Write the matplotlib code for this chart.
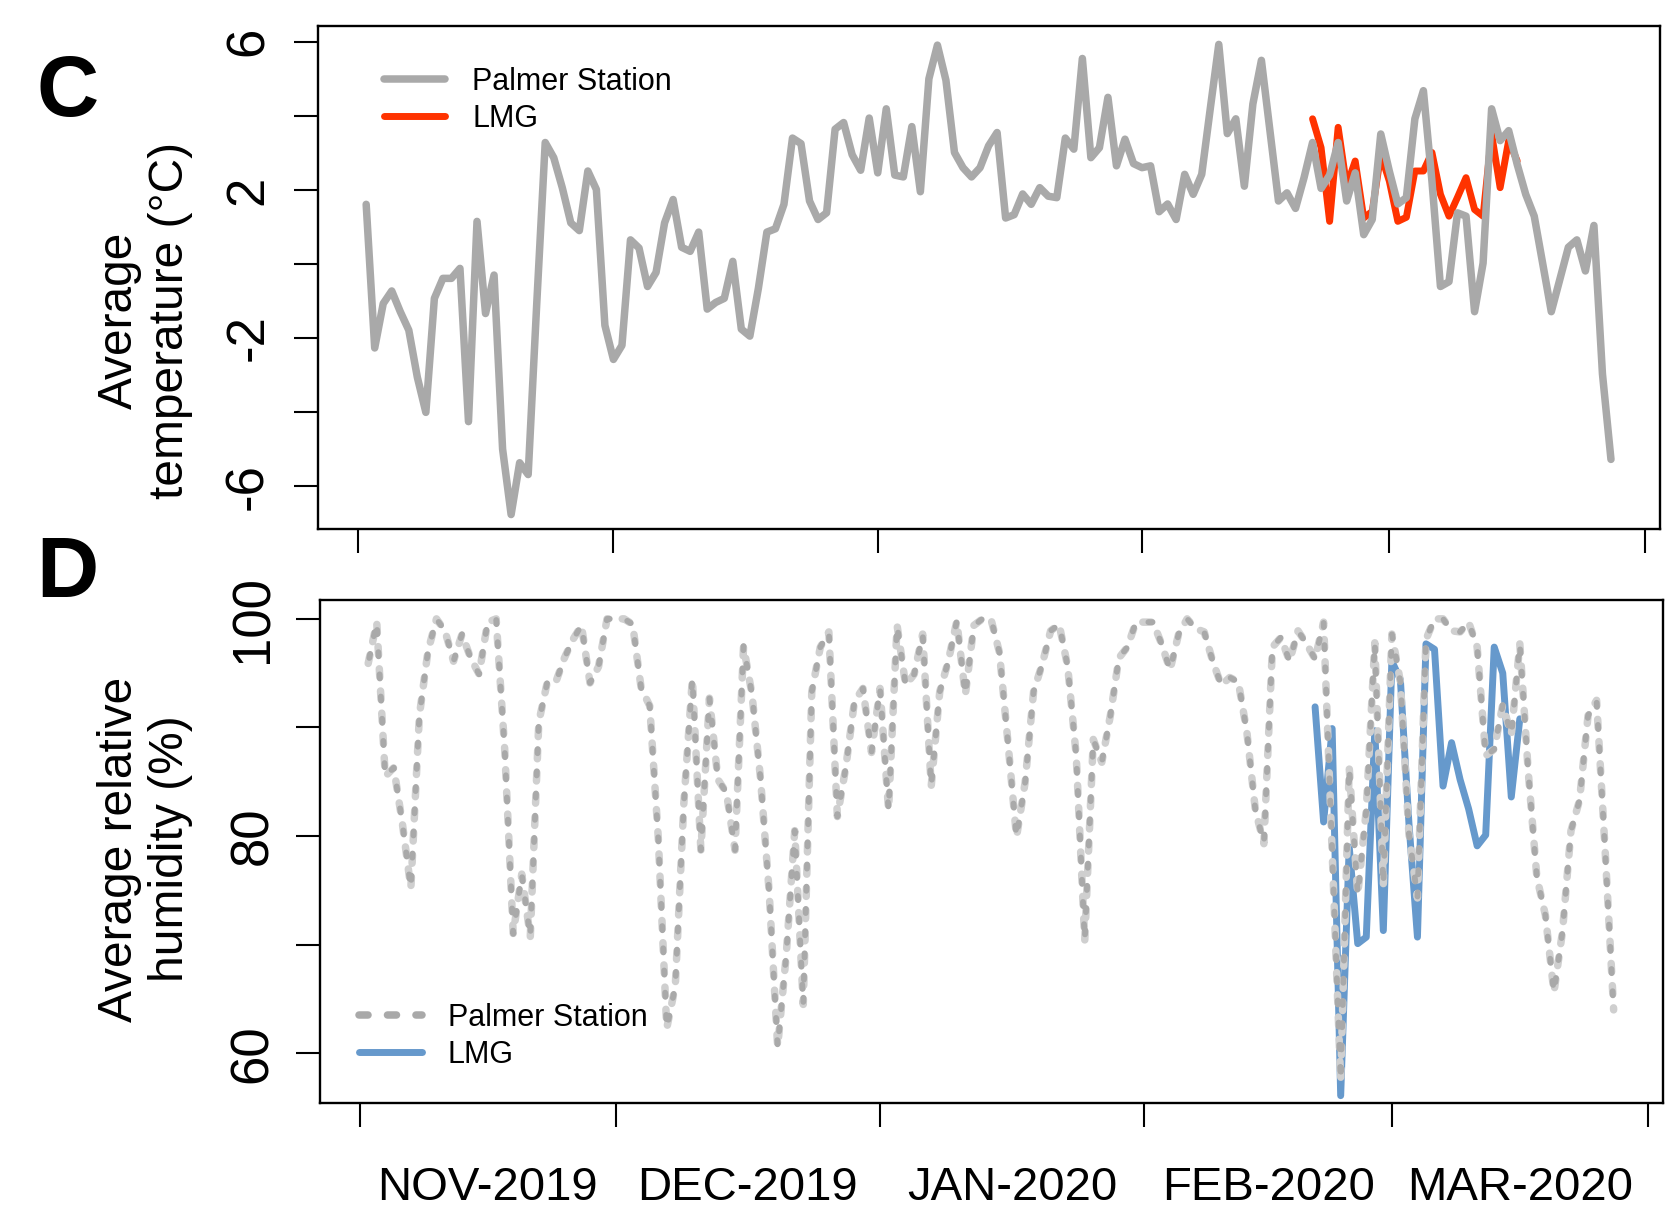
import numpy as np
import matplotlib
matplotlib.use("Agg")
import matplotlib.pyplot as plt
from matplotlib.lines import Line2D

plt.rcParams['font.family'] = ['Liberation Sans', 'DejaVu Sans']
plt.rcParams['lines.scale_dashes'] = False

W, H = 1673, 1222

# ---------- data (days since 1 Nov 2019) ----------
palmer_days = np.arange(1, 148)
lmg_days = np.arange(112, 137)

palmer_temp = [
    1.61, -2.27, -1.07, -0.73, -1.29, -1.79, -3.06, -4.01, -0.93, -0.39,
    -0.39, -0.12, -4.26, 1.15, -1.34, -0.30, -5.00, -6.77, -5.37, -5.69,
    -1.10, 3.28, 2.87, 2.06, 1.11, 0.90, 2.51, 2.01, -1.66, -2.58,
    -2.20, 0.65, 0.43, -0.61, -0.23, 1.11, 1.74, 0.45, 0.34, 0.86,
    -1.22, -1.04, -0.93, 0.07, -1.76, -1.95, -0.66, 0.86, 0.95, 1.61,
    3.40, 3.25, 1.70, 1.20, 1.38, 3.64, 3.82, 2.95, 2.53, 3.94,
    2.46, 4.19, 2.40, 2.35, 3.71, 1.95, 5.00, 5.91, 4.96, 3.01,
    2.60, 2.35, 2.60, 3.19, 3.55, 1.24, 1.33, 1.89, 1.61, 2.06,
    1.83, 1.79, 3.40, 3.10, 5.55, 2.87, 3.14, 4.50, 2.65, 3.37,
    2.71, 2.60, 2.65, 1.41, 1.62, 1.20, 2.42, 1.88, 2.42, 4.19,
    5.93, 3.52, 3.92, 2.10, 4.32, 5.50, 3.60, 1.70, 1.92, 1.50,
    2.33, 3.28, 2.04, 2.40, 3.28, 1.70, 2.46, 0.79, 1.20, 3.51,
    2.51, 1.62, 1.79, 3.92, 4.68, 2.24, -0.61, -0.48, 1.38, 1.29,
    -1.29, 0.02, 4.19, 3.33, 3.60, 2.69, 1.88, 1.29, 0.00, -1.29,
    -0.42, 0.45, 0.65, -0.19, 1.04, -2.97, -5.28,
]

lmg_temp = [
    3.92, 3.14, 1.15, 3.69, 2.10, 2.78, 1.24, 1.42, 2.96, 2.24,
    1.15, 1.26, 2.51, 2.51, 3.01, 1.88, 1.29, 1.80, 2.33, 1.47,
    1.29, 3.51, 2.06, 3.33, 2.78,
]

palmer_rh = [
    95.9, 99.7, 85.5, 86.3, 81.2, 75.2, 91.1, 97.0, 100.0, 98.9,
    96.1, 98.6, 96.4, 94.9, 99.7, 100.0, 88.0, 71.0, 76.5, 70.7,
    90.5, 94.2, 94.2, 96.4, 98.1, 99.4, 94.1, 95.6, 100.0, 100.0,
    100.0, 99.5, 93.6, 92.0, 79.9, 62.3, 66.2, 83.0, 94.5, 78.7,
    92.7, 85.2, 84.0, 78.7, 97.5, 93.0, 85.2, 74.9, 60.6, 69.0,
    80.5, 64.5, 93.3, 97.4, 98.8, 81.8, 86.4, 92.4, 93.6, 87.7,
    93.6, 82.4, 99.4, 93.9, 94.9, 98.6, 84.6, 93.3, 96.1, 99.8,
    93.0, 99.4, 100.0, 100.0, 96.9, 88.6, 79.9, 84.9, 93.3, 95.8,
    98.9, 99.5, 95.6, 87.4, 70.4, 88.9, 86.8, 91.1, 96.4, 97.4,
    99.7, 99.7, 99.7, 97.7, 95.3, 98.6, 100.0, 99.1, 98.8, 96.1,
    93.9, 94.6, 94.2, 89.6, 82.4, 79.3, 97.4, 98.3, 96.1, 98.9,
    97.7, 96.3, 99.7, 78.6, 57.5, 86.3, 74.6, 82.4, 97.8, 75.5,
    98.6, 94.2, 80.2, 74.3, 98.1, 100.0, 100.0, 98.9, 98.8, 99.7,
    97.4, 87.4, 88.0, 92.1, 89.3, 97.7, 85.8, 76.2, 72.7, 65.6,
    71.2, 80.5, 83.3, 91.1, 92.5, 78.7, 64.0,
]

lmg_rh = [
    91.9, 81.3, 89.9, 56.1, 79.0, 70.1, 70.7, 89.7, 71.3, 96.1,
    94.4, 81.2, 70.7, 97.7, 97.2, 84.6, 88.6, 85.2, 82.5, 79.1,
    80.1, 97.4, 95.0, 83.6, 90.8,
]

month_edges = [0, 30, 61, 92, 121, 151]
month_mids = [15, 45.5, 76.5, 106.5, 136]
month_labels = ["NOV-2019", "DEC-2019", "JAN-2020", "FEB-2020", "MAR-2020"]

temp_ticks = [-6, -4, -2, 0, 2, 4, 6]
temp_ticklabels = ["-6", "", "-2", "", "2", "", "6"]
rh_ticks = [60, 70, 80, 90, 100]
rh_ticklabels = ["60", "", "80", "", "100"]

GRAY = "#A9A9A9"
LIGHT = "#CFCFCF"
RED = "#FF3300"
BLUE = "#6699CC"

fig = plt.figure(figsize=(W / 100, H / 100), dpi=100)
ax1 = fig.add_axes([318 / W, 1 - 529 / H, 1342 / W, 503.3 / H])
ax2 = fig.add_axes([320 / W, 1 - 1102.5 / H, 1342.7 / W, 502.2 / H])

line_kw = dict(solid_capstyle="round", solid_joinstyle="round")

# ---------- C: temperature ----------
ax1.plot(lmg_days, lmg_temp, color=RED, lw=5.0, zorder=2, **line_kw)
ax1.plot(palmer_days, palmer_temp, color=GRAY, lw=5.4, zorder=3, **line_kw)
ax1.set_ylim(-7.16, 6.435)
ax1.set_yticks(temp_ticks)
ax1.set_yticklabels(temp_ticklabels, rotation=90, va="center")

h1 = [Line2D([], [], color=GRAY, lw=5.4, solid_capstyle="round"),
      Line2D([], [], color=RED, lw=5.0, solid_capstyle="round")]
ax1.legend(h1, ["Palmer Station", "LMG"], loc="upper left",
           bbox_to_anchor=(0.049, 0.918), frameon=False, fontsize=22,
           handlelength=2.0, handletextpad=0.9, labelspacing=0.23,
           borderpad=0, borderaxespad=0)

# ---------- D: relative humidity ----------
ax2.plot(lmg_days, lmg_rh, color=BLUE, lw=5.0, zorder=2, **line_kw)
ax2.plot(palmer_days, palmer_rh, color=LIGHT, lw=5.4, zorder=3,
         linestyle=(0, (6.0, 10.0)), dash_capstyle="round", dash_joinstyle="round")
ax2.plot(palmer_days, palmer_rh, color=GRAY, lw=4.2, zorder=4,
         linestyle=(12.0, (3.0, 13.0)), dash_capstyle="round", dash_joinstyle="round")
ax2.set_ylim(55.47, 101.71)
ax2.set_yticks(rh_ticks)
ax2.set_yticklabels(rh_ticklabels, rotation=90, va="center")

h2 = [Line2D([], [], color=GRAY, lw=5.4, linestyle=(0, (6.5, 14.0)),
             dash_capstyle="round"),
      Line2D([], [], color=BLUE, lw=5.0, solid_capstyle="round")]
ax2.legend(h2, ["Palmer Station", "LMG"], loc="upper left",
           bbox_to_anchor=(0.029, 0.198), frameon=False, fontsize=22,
           handlelength=2.05, handletextpad=0.85, labelspacing=0.23,
           borderpad=0, borderaxespad=0)

# ---------- shared axis styling ----------
for ax in (ax1, ax2):
    ax.set_xlim(-4.65, 152.75)
    ax.set_xticks(month_edges)
    ax.set_xticklabels([])
    for s in ax.spines.values():
        s.set_linewidth(1.7)
    ax.tick_params(axis="both", which="major", direction="out",
                   length=17, width=1.5, labelsize=38)

ax1.tick_params(axis="y", pad=15)
ax2.tick_params(axis="y", pad=13)

ax2.set_xticks(month_mids, minor=True)
ax2.set_xticklabels(month_labels, minor=True)
ax2.tick_params(axis="x", which="minor", length=0, pad=46, labelsize=34)

# ---------- labels ----------
fig.text(145 / W, 1 - 320 / H, "Average\ntemperature (\u00b0C)", rotation=90,
         ha="center", va="center", fontsize=34.5, linespacing=1.15)
fig.text(145 / W, 1 - 849 / H, "Average relative\nhumidity (%)", rotation=90,
         ha="center", va="center", fontsize=34.5, linespacing=1.15)

fig.text(37 / W, 1 - 116 / H, "C", fontsize=62, fontweight="bold",
         ha="left", va="baseline")
fig.text(36 / W, 1 - 597 / H, "D", fontsize=62, fontweight="bold",
         ha="left", va="baseline")

fig.savefig("out.png", dpi=100)
